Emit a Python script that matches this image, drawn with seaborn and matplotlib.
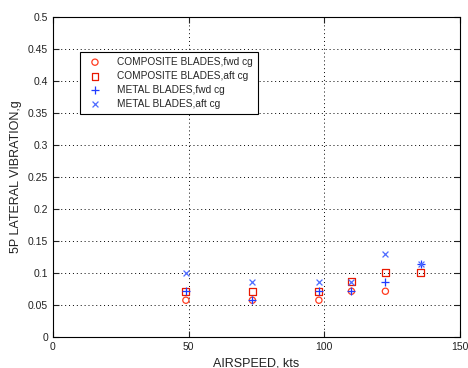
import numpy as np
import pandas as pd
import seaborn as sns
import matplotlib.pyplot as plt

# values
comp_fwd_x = [49, 73.5, 98, 110, 122.5]
comp_fwd_y = [0.057, 0.057, 0.057, 0.071, 0.071]

comp_aft_x = [49, 73.5, 98, 110, 122.5, 135.5]
comp_aft_y = [0.071, 0.071, 0.071, 0.086, 0.100, 0.100]

metal_fwd_x = [49, 73.5, 98, 110, 122.5, 135.5]
metal_fwd_y = [0.071, 0.057, 0.071, 0.071, 0.086, 0.114]

metal_aft_x = [49, 73.5, 98, 110, 122.5, 135.5]
metal_aft_y = [0.099, 0.086, 0.086, 0.086, 0.129, 0.114]

labels = ['COMPOSITE BLADES,fwd cg', 'COMPOSITE BLADES,aft cg',
          'METAL BLADES,fwd cg', 'METAL BLADES,aft cg']

sns.set_style('white')
plt.rcParams['font.family'] = ['Liberation Sans', 'DejaVu Sans']

f = plt.figure(figsize=(4.68, 3.68), dpi=100)
ax = f.add_axes([0.113, 0.085, 0.870, 0.870])

series = [
    (comp_fwd_x, comp_fwd_y, 'o', dict(facecolors='none', edgecolors='#ff3b1f', s=20, linewidths=0.9)),
    (comp_aft_x, comp_aft_y, 's', dict(facecolors='none', edgecolors='#e81800', s=24, linewidths=0.9)),
    (metal_fwd_x, metal_fwd_y, '+', dict(color='#1f3bff', s=32, linewidths=0.9)),
    (metal_aft_x, metal_aft_y, 'x', dict(color='#4d6bff', s=18, linewidths=0.9)),
]
for (xs, ys, m, kw), lab in zip(series, labels):
    sns.scatterplot(x=xs, y=ys, marker=m, label=lab, ax=ax, **kw)

ax.set_xlim(0, 150)
ax.set_ylim(0, 0.5)
ax.set_xticks([0, 50, 100, 150])
ax.set_yticks(np.arange(0, 0.51, 0.05))
ax.set_yticklabels(['0', '0.05', '0.1', '0.15', '0.2', '0.25', '0.3', '0.35', '0.4', '0.45', '0.5'])
ax.tick_params(direction='in', length=4, labelsize=7.5, colors='#222222', top=True, right=True,
               bottom=True, left=True, labeltop=False, labelright=False)
ax.grid(True, linestyle=(0, (1, 3)), color='black', linewidth=0.7)
for s in ax.spines.values():
    s.set_color('black')
    s.set_linewidth(0.8)

ax.set_xlabel('AIRSPEED, kts', fontsize=9, color='#222222')
ax.set_ylabel('5P LATERAL VIBRATION,g', fontsize=9, color='#222222')

leg = ax.legend(loc='upper left', bbox_to_anchor=(0.066, 0.89), fontsize=7.3, frameon=True,
                fancybox=False, edgecolor='black', framealpha=1, borderpad=0.5,
                handletextpad=1.2, labelspacing=0.4, borderaxespad=0)
leg.get_frame().set_linewidth(0.8)

f.savefig('out.png', dpi=100)
plt.close(f)
